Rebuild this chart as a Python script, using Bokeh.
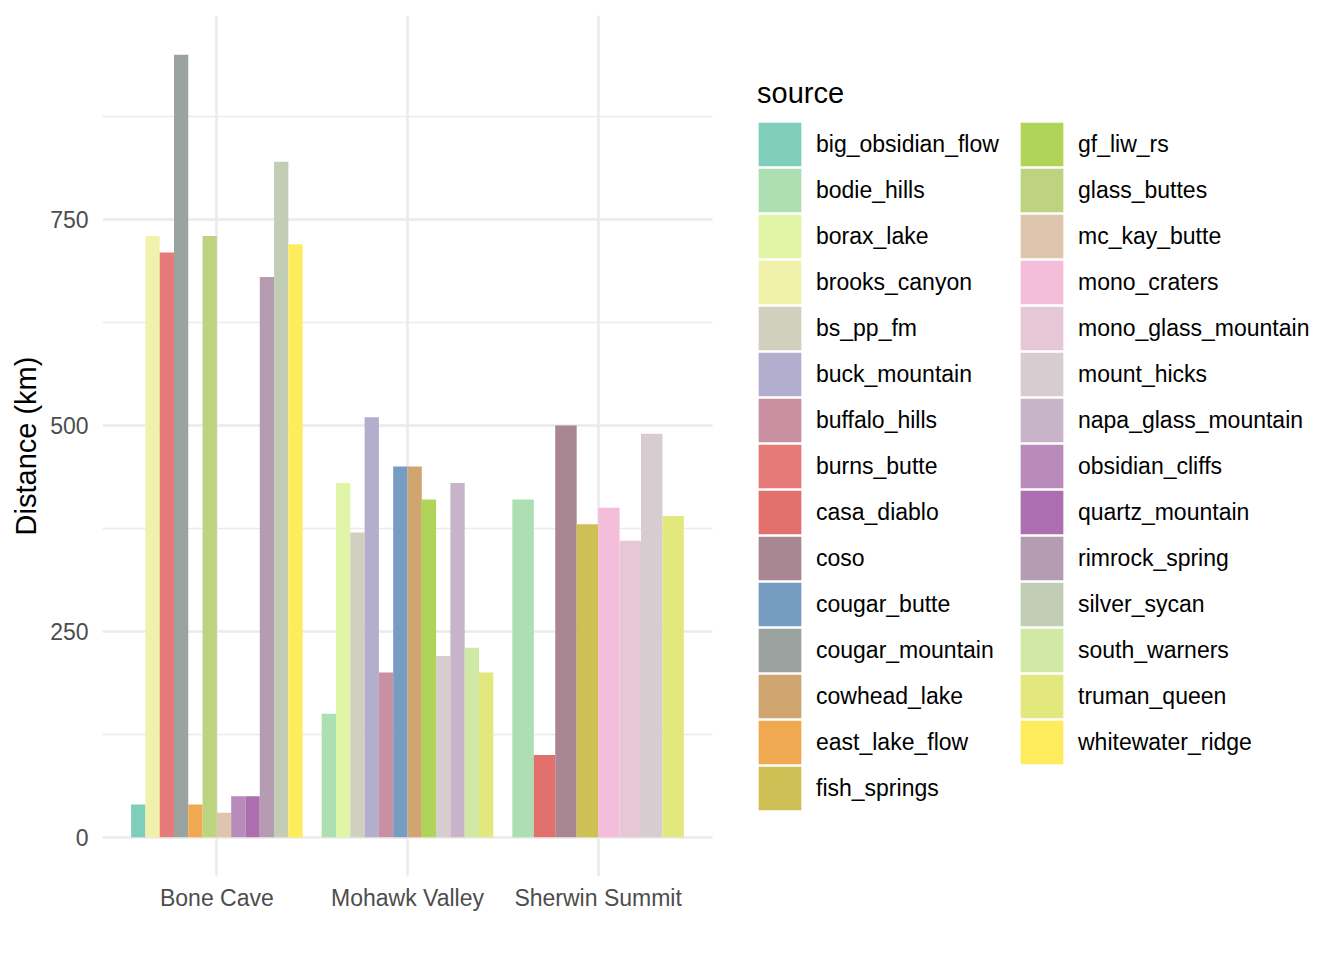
from bokeh.plotting import figure
from bokeh.models import (Range1d, FixedTicker, SingleIntervalTicker, Legend, LegendItem,
                          ColumnDataSource, BoxAnnotation)
from bokeh.embed import file_html
from bokeh.resources import INLINE

sites = ["Bone Cave", "Mohawk Valley", "Sherwin Summit"]

sources = [
    "big_obsidian_flow", "bodie_hills", "borax_lake", "brooks_canyon", "bs_pp_fm",
    "buck_mountain", "buffalo_hills", "burns_butte", "casa_diablo", "coso",
    "cougar_butte", "cougar_mountain", "cowhead_lake", "east_lake_flow", "fish_springs",
    "gf_liw_rs", "glass_buttes", "mc_kay_butte", "mono_craters", "mono_glass_mountain",
    "mount_hicks", "napa_glass_mountain", "obsidian_cliffs", "quartz_mountain",
    "rimrock_spring", "silver_sycan", "south_warners", "truman_queen", "whitewater_ridge",
]
colors = [
    "#7FCDBB", "#ADDFB3", "#E0F5A8", "#F0F2AC", "#D1D0BE",
    "#B3AECE", "#C990A2", "#E57A78", "#E2716E", "#A98691",
    "#779CC1", "#9AA39F", "#D0A570", "#F0A950", "#CFC055",
    "#AFD458", "#BED37F", "#DEC6AE", "#F4BEDB", "#E5C7D6",
    "#D7CDD1", "#C7B4C8", "#B98BBA", "#AD6FB0",
    "#B59CB2", "#C1CEB5", "#D0E9A5", "#E3E87E", "#FEEC5D",
]

bone_cave_sources = ["big_obsidian_flow", "brooks_canyon", "burns_butte", "cougar_mountain",
                     "east_lake_flow", "glass_buttes", "mc_kay_butte", "obsidian_cliffs",
                     "quartz_mountain", "rimrock_spring", "silver_sycan", "whitewater_ridge"]
bone_cave_km = [40, 730, 710, 950, 40, 730, 30, 50, 50, 680, 820, 720]

mohawk_valley_sources = ["bodie_hills", "borax_lake", "bs_pp_fm", "buck_mountain",
                         "buffalo_hills", "cougar_butte", "cowhead_lake", "gf_liw_rs",
                         "mount_hicks", "napa_glass_mountain", "south_warners", "truman_queen"]
mohawk_valley_km = [150, 430, 370, 510, 200, 450, 450, 410, 220, 430, 230, 200]

sherwin_summit_sources = ["bodie_hills", "casa_diablo", "coso", "fish_springs",
                          "mono_craters", "mono_glass_mountain", "mount_hicks", "truman_queen"]
sherwin_summit_km = [410, 100, 500, 380, 400, 360, 490, 390]

y_ticks_interval = 250

site_sources = [bone_cave_sources, mohawk_valley_sources, sherwin_summit_sources]
site_km = [bone_cave_km, mohawk_valley_km, sherwin_summit_km]

FONT = "Liberation Sans"
GRID = "#EBEBEB"
DODGE = 0.9

# panel (ggplot-like) spans x 0.4..3.6 over 610 px; the frame is wider to hold the legend
PANEL_X0, PANEL_X1, PANEL_W = 0.4, 3.6, 610
FRAME_W, FRAME_H = 1228, 861
x_end = PANEL_X0 + (PANEL_X1 - PANEL_X0) * FRAME_W / PANEL_W

p = figure(frame_width=FRAME_W, frame_height=FRAME_H,
           min_border_left=102, min_border_right=0, min_border_top=15, min_border_bottom=64,
           x_range=Range1d(PANEL_X0, x_end), y_range=Range1d(-47.5, 997.5),
           output_backend="svg", toolbar_location=None)
p.outline_line_color = None
p.background_fill_color = "white"

items = []
for s, c in zip(sources, colors):
    xs, tops, ws = [], [], []
    for i, (srcs, kms) in enumerate(zip(site_sources, site_km)):
        if s in srcs:
            j = srcs.index(s)
            n = len(srcs)
            xs.append(i + 1 - DODGE / 2 + (j + 0.5) * DODGE / n)
            tops.append(kms[j])
            ws.append(DODGE / n)
    cds = ColumnDataSource(dict(x=xs, top=tops, w=ws))
    bar = p.vbar(x="x", top="top", width="w", bottom=0, source=cds,
                 fill_color=c, line_color=None)
    # legend-key renderer: hidden in the plot, thick outline gives a full-size key
    key = p.vbar(x="x", top="top", width="w", bottom=0, source=cds,
                 fill_color=c, line_color=c, line_width=6.7, line_join="miter",
                 visible=False)
    items.append(LegendItem(label=s, renderers=[bar, key]))

# axes
p.xaxis.ticker = FixedTicker(ticks=[1, 2, 3])
p.xaxis.major_label_overrides = {i + 1: s for i, s in enumerate(sites)}
p.yaxis.ticker = SingleIntervalTicker(interval=y_ticks_interval, num_minor_ticks=2)
for ax in (p.xaxis, p.yaxis):
    ax.axis_line_color = None
    ax.major_tick_line_color = None
    ax.minor_tick_line_color = None
    ax.major_label_text_font = FONT
    ax.major_label_text_font_size = "23px"
    ax.major_label_text_color = "#4D4D4D"
p.xaxis.major_label_standoff = 2
p.yaxis.major_label_standoff = 8
p.yaxis.axis_label = "Distance (km)"
p.yaxis.axis_label_text_font = FONT
p.yaxis.axis_label_text_font_size = "29px"
p.yaxis.axis_label_text_font_style = "normal"
p.yaxis.axis_label_text_color = "black"
p.yaxis.axis_label_standoff = 5

# grids
p.xgrid.ticker = FixedTicker(ticks=[1, 2, 3])
p.xgrid.grid_line_color = GRID
p.xgrid.grid_line_width = 2.6
p.ygrid.grid_line_color = GRID
p.ygrid.grid_line_width = 2.6
p.ygrid.minor_grid_line_color = GRID
p.ygrid.minor_grid_line_width = 1.3

# blank out the grid to the right of the panel (legend area)
p.add_layout(BoxAnnotation(left=PANEL_X1, fill_color="white", fill_alpha=1.0,
                           line_color=None, line_alpha=0))


def make_legend(its, loc, title=None):
    kw = {}
    if title:
        kw["title"] = title
    lg = Legend(items=its, location=loc, click_policy="none", **kw)
    lg.padding = 0
    lg.margin = 0
    lg.spacing = 0
    lg.glyph_width = 45
    lg.glyph_height = 46
    lg.label_standoff = 14
    lg.label_text_font = FONT
    lg.label_text_font_size = "23px"
    lg.label_text_color = "black"
    lg.title_text_font = FONT
    lg.title_text_font_size = "29px"
    lg.title_text_font_style = "normal"
    lg.title_text_color = "black"
    lg.title_standoff = 11
    lg.border_line_color = None
    lg.background_fill_alpha = 0
    lg.inactive_fill_alpha = 0
    return lg


p.add_layout(make_legend(items[:15], (655, 65), "source"))
p.add_layout(make_legend(items[15:], (917, 111)))

open("out.html", "w").write(file_html(p, INLINE))
